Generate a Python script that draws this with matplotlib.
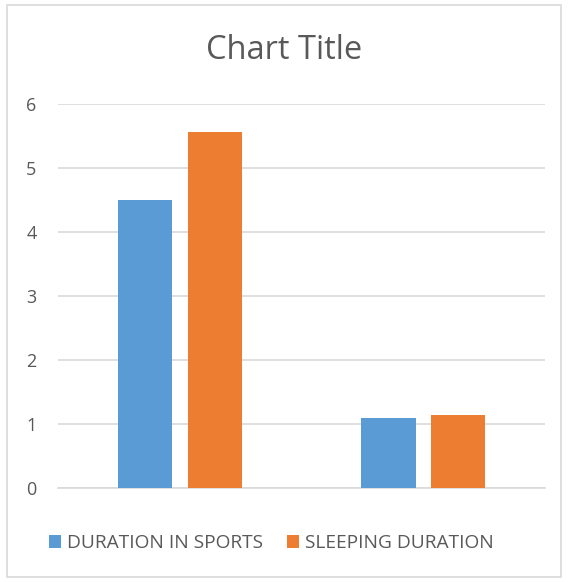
import matplotlib.pyplot as plt
from matplotlib.patches import Rectangle
import numpy as np

# chart data
categories = ["1", "2"]
sports = [4.5, 1.1]
sleeping = [5.57, 1.14]
series_names = ["DURATION IN SPORTS", "SLEEPING DURATION"]
yticks = [0, 1, 2, 3, 4, 5, 6]

blue = "#5b9bd5"
orange = "#ed7d31"
text_grey = "#595959"
grid_grey = "#d9d9d9"

plt.rcParams["font.family"] = ["Open Sans", "DejaVu Sans"]

fig = plt.figure(figsize=(5.69, 5.82), dpi=100)
ax = fig.add_axes([0.102, 0.1615, 0.856, 0.6598])

x = np.arange(len(categories))
width = 0.222
offset = 0.143
b1 = ax.bar(x - offset, sports, width, color=blue, label=series_names[0], zorder=3)
b2 = ax.bar(x + offset, sleeping, width, color=orange, label=series_names[1], zorder=3)

ax.set_xlim(-0.5, 1.5)
ax.set_ylim(0, 6)
ax.set_yticks(yticks)
ax.set_xticks([])
ax.yaxis.grid(True, color=grid_grey, linewidth=1.2, zorder=0)
ax.tick_params(axis="y", length=0, labelsize=13, labelcolor=text_grey, pad=15.5)
for s in ["top", "right", "left"]:
    ax.spines[s].set_visible(False)
ax.spines["bottom"].set_color(grid_grey)
ax.spines["bottom"].set_linewidth(1.2)

fig.text(0.5, 0.914, "Chart Title", ha="center", va="center", fontsize=23.5, color=text_grey)

leg = fig.legend(handles=[b1, b2], loc="center", bbox_to_anchor=(0.477, 0.067), ncol=2,
                 frameon=False, fontsize=13.8, handlelength=0.63, handleheight=0.63,
                 handletextpad=0.3, columnspacing=1.25)
for t in leg.get_texts():
    t.set_color(text_grey)

# outer chart border
fig.patches.append(Rectangle((7 / 569, 5 / 582), 554 / 569, 572 / 582, transform=fig.transFigure,
                             fill=False, edgecolor=grid_grey, linewidth=1.2))

fig.savefig("out.png", dpi=100)
